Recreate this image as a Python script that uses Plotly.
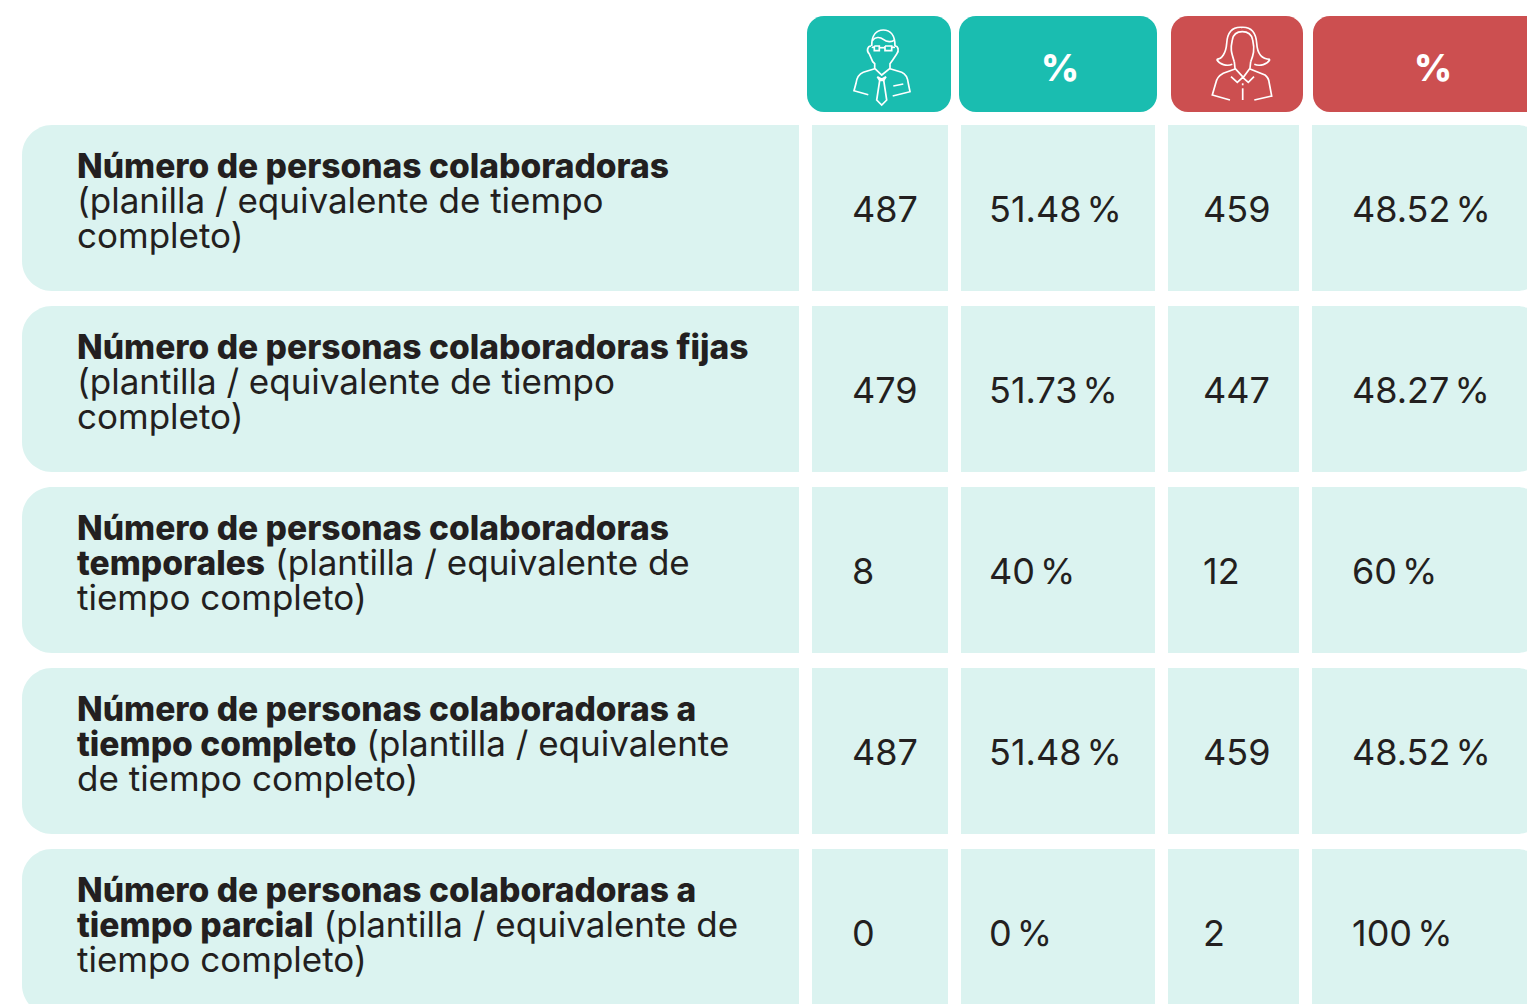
import plotly.graph_objects as go

# ---- data ----
row_lines = [
    ["<b>Número de personas colaboradoras</b>", "(planilla / equivalente de tiempo", "completo)"],
    ["<b>Número de personas colaboradoras fijas</b>", "(plantilla / equivalente de tiempo", "completo)"],
    ["<b>Número de personas colaboradoras</b>", "<b>temporales</b> (plantilla / equivalente de", "tiempo completo)"],
    ["<b>Número de personas colaboradoras a</b>", "<b>tiempo completo</b> (plantilla / equivalente", "de tiempo completo)"],
    ["<b>Número de personas colaboradoras a</b>", "<b>tiempo parcial</b> (plantilla / equivalente de", "tiempo completo)"],
]
men_count = ["487", "479", "8", "487", "0"]
men_pct = ["51.48 %", "51.73 %", "40 %", "51.48 %", "0 %"]
women_count = ["459", "447", "12", "459", "2"]
women_pct = ["48.52 %", "48.27 %", "60 %", "48.52 %", "100 %"]
header_pct = "%"

# ---- style / layout ----
W, H = 1527, 1004
TEAL, RED, LIGHT, INK = "#1ABDB0", "#CC4F50", "#DBF3F0", "#231F20"
FONT = "Inter"
row_tops = [125, 306, 487, 668, 849]
row_h = 166
cols = [(22, 799), (812, 948), (961, 1155), (1168, 1299), (1312, 1545)]
value_x = [853, 990, 1204, 1353]
heads = [(807, 951, TEAL), (959, 1157, TEAL), (1171, 1303, RED), (1313, 1545, RED)]
LINE_OFF = [40.5, 75, 109.5]


def rrect(x0, y0, x1, y1, rl=0, rr=0):
    k = 0.45
    p = f"M{x0+rl},{y0} L{x1-rr},{y0} "
    if rr:
        p += f"C{x1-rr*k},{y0} {x1},{y0+rr*k} {x1},{y0+rr} L{x1},{y1-rr} C{x1},{y1-rr*k} {x1-rr*k},{y1} {x1-rr},{y1} "
    else:
        p += f"L{x1},{y1} "
    p += f"L{x0+rl},{y1} "
    if rl:
        p += f"C{x0+rl*k},{y1} {x0},{y1-rl*k} {x0},{y1-rl} L{x0},{y0+rl} C{x0},{y0+rl*k} {x0+rl*k},{y0} {x0+rl},{y0} "
    else:
        p += f"L{x0},{y0} "
    return p + "Z"


def icon(strokes, ox, oy):
    """strokes are written in 3x icon units"""
    out = []
    for s in strokes:
        toks = s.split()
        res = []
        for t in toks:
            cmd = ""
            if t[0].isalpha():
                cmd, t = t[0], t[1:]
            a, b = t.split(",")
            res.append(f"{cmd}{ox+float(a)/3:.1f},{oy+float(b)/3:.1f}")
        out.append(dict(type="path", xref="x", yref="y", path=" ".join(res),
                        line=dict(color="white", width=1.7), fillcolor="rgba(0,0,0,0)"))
    return out


man = [
    "M95,78 C95,45 110,30 130,30 C150,30 165,45 165,78",
    "M97,62 C105,50 120,50 130,58 C140,66 155,68 163,60",
    "M103,78 L118,78 L118,92 L103,92 L103,78",
    "M135,78 L155,78 L155,92 L135,92 L135,78",
    "M118,83 L135,83",
    "M95,82 L103,82",
    "M155,82 L165,82",
    "M93,78 C83,78 78,92 88,102 L98,125 L104,131 L104,145 L125,165 L150,145 L150,131 L158,120 L170,102 C178,92 175,78 165,78",
    "M104,146 L70,157 C55,163 50,175 48,190 L42,212 L85,224",
    "M150,146 L185,157 C200,163 203,175 205,190 L210,215 L158,228",
    "M112,170 L125,178 L138,170 L131,181 L119,181 L112,170",
    "M119,181 L110,240 L125,255 L140,240 L131,181",
    "M160,198 L190,192",
]
woman = [
    "M50,118 C65,118 78,100 80,70 C82,40 95,20 125,22 C155,20 168,40 170,70 C172,100 185,118 210,118",
    "M50,118 C58,133 80,140 97,133",
    "M210,118 C202,133 180,140 163,133",
    "M103,125 C95,100 90,90 97,60 C100,42 110,35 127,35 C145,35 155,45 158,60 C165,90 160,105 152,125",
    "M103,125 L105,145 L130,172 L150,145 L152,125",
    "M105,147 L70,160 C55,168 50,175 47,190 L37,225 L90,240",
    "M150,147 L195,165 C205,172 207,180 208,190 L215,228 L163,240",
    "M93,170 L112,187 L128,172 L145,187 L162,170",
    "M128,190 L128,196",
    "M128,205 L128,240",
]

shapes = []
for x0, x1, c in heads:
    shapes.append(dict(type="path", path=rrect(x0, 16, x1, 112, 17, 17), fillcolor=c,
                       line=dict(width=0), xref="x", yref="y", layer="below"))
for top in row_tops:
    for i, (x0, x1) in enumerate(cols):
        shapes.append(dict(type="path", fillcolor=LIGHT, line=dict(width=0), xref="x", yref="y", layer="below",
                           path=rrect(x0, top, x1, top + row_h, 30 if i == 0 else 0, 28 if i == 4 else 0)))
shapes += icon(man, 840, 20) + icon(woman, 1200, 20)


def label_markup(t):
    return t.replace("<b>", '<span style="font-weight:800;font-size:33.6px">').replace("</b>", "</span>")


def value_markup(t):
    return t.replace(" ", '<span style="font-size:18px"> </span>')


ann = []
for top, lines in zip(row_tops, row_lines):
    for off, txt in zip(LINE_OFF, lines):
        ann.append(dict(x=77, y=top + off, text=label_markup(txt), xanchor="left", yanchor="middle", showarrow=False,
                        xref="x", yref="y", xshift=-2,
                        font=dict(family=FONT, size=35, color=INK)))
for top, a, b, c, d in zip(row_tops, men_count, men_pct, women_count, women_pct):
    for x, v in zip(value_x, (a, b, c, d)):
        ann.append(dict(x=x, y=top + 84, text=value_markup(v), xanchor="left", yanchor="middle", showarrow=False,
                        xref="x", yref="y", xshift=-3,
                        font=dict(family=FONT, size=36, color=INK)))
for x in (1060, 1433):
    ann.append(dict(x=x, y=67.5, text=header_pct, xanchor="center", yanchor="middle", showarrow=False,
                    xref="x", yref="y", font=dict(family=FONT, size=37, color="white", weight=800)))

fig = go.Figure()
fig.update_layout(
    width=W, height=H, margin=dict(l=0, r=0, t=0, b=0), showlegend=False,
    paper_bgcolor="white", plot_bgcolor="white", shapes=shapes, annotations=ann,
    xaxis=dict(range=[0, W], visible=False, fixedrange=True),
    yaxis=dict(range=[H, 0], visible=False, fixedrange=True),
)
fig.write_html("out.html", post_script="document.body.style.margin='0';document.body.style.overflow='hidden';",
               config={"displayModeBar": False})
